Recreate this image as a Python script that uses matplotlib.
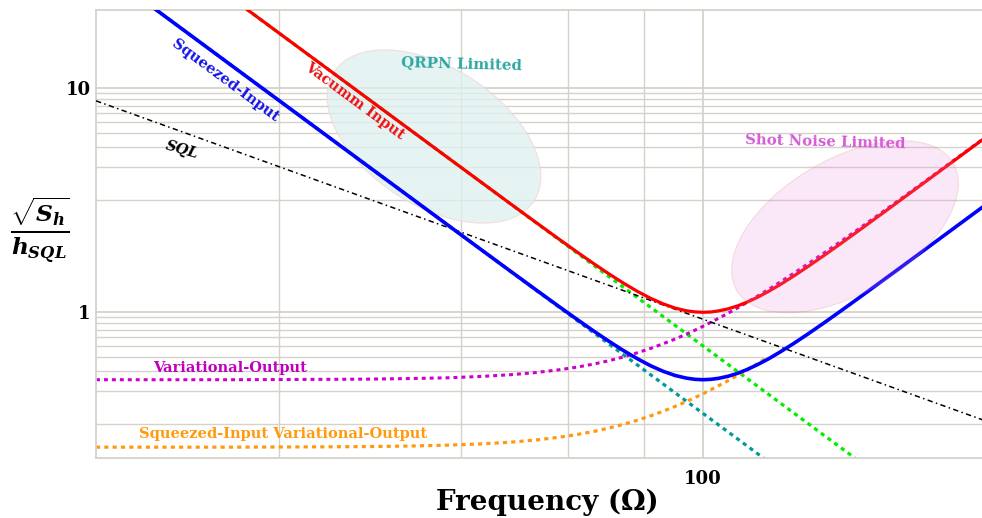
import numpy as np
import matplotlib
matplotlib.use("Agg")
import matplotlib.pyplot as plt
from matplotlib.patches import Ellipse
from matplotlib.transforms import IdentityTransform

plt.rcParams["font.family"] = ["DejaVu Serif"]
plt.rcParams["mathtext.fontset"] = "custom"
plt.rcParams["mathtext.rm"] = "DejaVu Serif:bold"
plt.rcParams["mathtext.it"] = "DejaVu Serif:italic:bold"
plt.rcParams["mathtext.bf"] = "DejaVu Serif:bold"

# ---- data: noise amplitude normalised to h_SQL, versus frequency ----
freq = [10, 12, 14, 17, 20, 24, 28, 33, 38, 43, 48, 53, 58, 62, 66, 70, 74, 78,
        82, 86, 90, 94, 97, 100, 103, 106, 110, 114, 118, 123, 128, 134, 141,
        149, 158, 168, 180, 195, 212, 232, 255, 280, 300]

vacuum_input = [70.71, 49.10, 36.08, 24.47, 17.68, 12.28, 9.019, 6.494, 4.898,
                3.827, 3.073, 2.525, 2.115, 1.859, 1.652, 1.484, 1.348, 1.239,
                1.154, 1.090, 1.044, 1.015, 1.004, 1.000, 1.003, 1.014, 1.036,
                1.068, 1.108, 1.167, 1.236, 1.329, 1.450, 1.602, 1.788, 2.011,
                2.301, 2.695, 3.182, 3.808, 4.599, 5.544, 6.364]

squeezed_input = [35.36, 24.55, 18.04, 12.23, 8.84, 6.14, 4.51, 3.247, 2.449,
                  1.913, 1.537, 1.263, 1.058, 0.930, 0.826, 0.742, 0.674, 0.620,
                  0.577, 0.545, 0.522, 0.508, 0.502, 0.500, 0.502, 0.507, 0.518,
                  0.534, 0.554, 0.584, 0.618, 0.665, 0.725, 0.801, 0.894, 1.006,
                  1.151, 1.348, 1.591, 1.904, 2.300, 2.772, 3.182]

variational_output = [0.500, 0.500, 0.500, 0.500, 0.501, 0.502, 0.503, 0.506,
                      0.510, 0.517, 0.526, 0.538, 0.554, 0.569, 0.587, 0.608,
                      0.632, 0.660, 0.690, 0.724, 0.760, 0.800, 0.832, 0.866,
                      0.902, 0.939, 0.991, 1.046, 1.104, 1.181, 1.262, 1.365,
                      1.492, 1.648, 1.835, 2.057, 2.345, 2.735, 3.217, 3.839,
                      4.625, 5.566, 6.384]

# squeezed variational read-out, drawn until it meets the squeezed-input curve
sq_var_freq = [10, 12, 14, 17, 20, 24, 28, 33, 38, 43, 48, 53, 58, 62, 66, 70,
               74, 78, 82, 86, 90, 94, 97, 100, 103, 106, 110, 114, 118, 123,
               128]
squeezed_variational = [0.250, 0.250, 0.250, 0.250, 0.2504, 0.2508, 0.2515,
                        0.2529, 0.2552, 0.2584, 0.2629, 0.2690, 0.2769, 0.2846,
                        0.2936, 0.3042, 0.3162, 0.3298, 0.3450, 0.3618, 0.3802,
                        0.4001, 0.4161, 0.4330, 0.4508, 0.4694, 0.4955, 0.5231,
                        0.5521, 0.5904, 0.6309]

# straight (power-law) references, given at the two ends of the band
line_freq = [10, 300]
qrpn_vacuum = [70.71, 0.0786]
qrpn_squeezed = [35.36, 0.0393]
sql_line = [8.79, 0.319]

x_ticks = [100]
x_tick_labels = ["100"]
y_ticks = [1, 10]
y_tick_labels = ["1", "10"]
x_grid = [20, 40, 60, 80]
y_grid_sq = [0.1, 0.2, 0.3, 0.4, 0.5, 0.6, 0.7, 0.8, 0.9,
             10, 20, 30, 40, 50, 60, 70, 80, 90]

# ---- figure ----
W, H = 982, 518
fig = plt.figure(figsize=(W / 100, H / 100), dpi=100)
ax_l, ax_r, ax_t, ax_b = 96, 992.6, 10, 458
ax = fig.add_axes([ax_l / W, 1 - ax_b / H, (ax_r - ax_l) / W, (ax_b - ax_t) / H])
ax.set_xscale("log")
ax.set_yscale("log")
ax.set_xlim(10, 300)
ax.set_ylim(np.sqrt(0.05), np.sqrt(500))

grid_c = "#D6D2CA"
for s in ax.spines.values():
    s.set_color(grid_c)
    s.set_linewidth(1.3)

ax.set_xticks(x_ticks)
ax.set_xticklabels(x_tick_labels)
ax.set_yticks(y_ticks)
ax.set_yticklabels(y_tick_labels)
ax.set_xticks(x_grid, minor=True)
ax.set_yticks(np.sqrt(y_grid_sq), minor=True)
ax.xaxis.set_minor_formatter(plt.NullFormatter())
ax.yaxis.set_minor_formatter(plt.NullFormatter())
ax.tick_params(which="both", length=0)
ax.tick_params(axis="x", pad=9, labelsize=13)
ax.tick_params(axis="y", pad=4, labelsize=13)
for lab in ax.get_xticklabels() + ax.get_yticklabels():
    lab.set_fontweight("bold")
ax.grid(which="major", color=grid_c, lw=1.3, zorder=0)
ax.grid(which="minor", color=grid_c, lw=1.0, zorder=0)
ax.set_axisbelow(True)

# shaded regimes
ax.add_patch(Ellipse((434, H - 136.5), 2 * 119, 2 * 69, angle=-32.7,
                     transform=IdentityTransform(), facecolor="#DDF0EF",
                     edgecolor="#F4D4D4", lw=0.8, alpha=0.75, zorder=1))

# asymptotes and variational read-out (dotted)
dot = (0, (1.3, 1.3))
ax.plot(line_freq, qrpn_vacuum, color="#00EE00", lw=2.3, ls=dot, zorder=2)
ax.plot(line_freq, qrpn_squeezed, color="#009A9A", lw=2.3, ls=dot, zorder=2)
ax.plot(freq, variational_output, color="#CC00CC", lw=2.2, ls=dot, zorder=2)
ax.plot(sq_var_freq, squeezed_variational, color="#FF9A10", lw=2.3, ls=dot,
        zorder=2)

# standard quantum limit
ax.plot(line_freq, sql_line, color="black", lw=1.1,
        ls=(0, (3.5, 2.2, 1, 2.2)), zorder=3)

# full quantum noise
ax.plot(freq, squeezed_input, color="#0000FF", lw=2.6, zorder=4)
ax.plot(freq, vacuum_input, color="#FF0000", lw=2.3, zorder=5)

ax.add_patch(Ellipse((845, H - 226.7), 2 * 125.6, 2 * 67.1, angle=30.5,
                     transform=IdentityTransform(), facecolor="#E688D8",
                     edgecolor="#D88070", lw=0.8, alpha=0.2, zorder=6))


def fx(px):
    return px / W


def fy(py):
    return 1 - py / H


lab = dict(fontweight="bold", ha="center", va="center", zorder=8)
fig.text(fx(225), fy(81), "Squeezed-Input", color="#1414E8", fontsize=10.5,
         rotation=-36.4, **lab)
fig.text(fx(355), fy(101), "Vacumm Input", color="#EE1111", fontsize=10.5,
         rotation=-36.4, **lab)
fig.text(fx(182), fy(150), "SQL", color="black", fontsize=10.5,
         rotation=-16, style="italic", **lab)
fig.text(fx(462), fy(64), "QRPN Limited", color="#2EA8A0", fontsize=10.8,
         rotation=-1.5, **lab)
fig.text(fx(825), fy(142), "Shot Noise Limited", color="#D55CD5",
         fontsize=10.7, rotation=-1.5, **lab)
fig.text(fx(230), fy(368), "Variational-Output", color="#BE00BE",
         fontsize=10.5, **lab)
fig.text(fx(283), fy(434), "Squeezed-Input Variational-Output",
         color="#FF9A10", fontsize=10.5, **lab)

fig.text(fx(547), fy(502), "Frequency (Ω)", fontsize=20,
         fontweight="bold", ha="center", va="center")
fig.text(fx(40), fy(230), r"$\frac{\sqrt{S_h}}{h_{SQL}}$", fontsize=24,
         ha="center", va="center")

fig.savefig("out.png", dpi=100)
